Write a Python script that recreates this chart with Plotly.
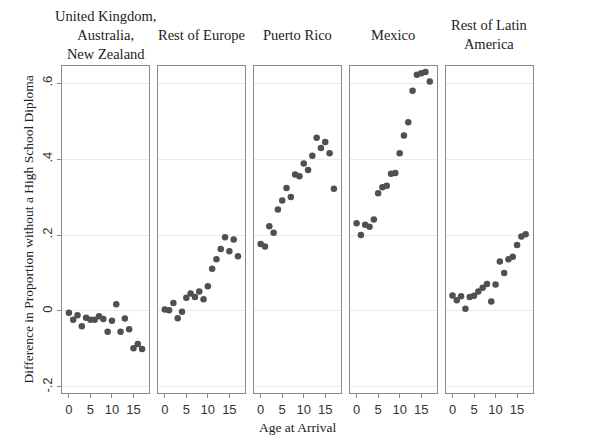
import plotly.graph_objects as go

ages = list(range(18))
panel_titles = ["United Kingdom,<br>Australia,<br>New Zealand", "Rest of Europe",
                "Puerto Rico", "Mexico", "Rest of Latin<br>America"]
uk_anz = [-0.005, -0.023, -0.011, -0.040, -0.018, -0.023, -0.023, -0.014, -0.021,
          -0.055, -0.026, 0.018, -0.055, -0.020, -0.048, -0.098, -0.087, -0.100]
rest_europe = [0.004, 0.002, 0.021, -0.019, -0.002, 0.035, 0.046, 0.037, 0.051,
               0.031, 0.065, 0.111, 0.136, 0.163, 0.194, 0.157, 0.188, 0.144]
puerto_rico = [0.176, 0.170, 0.223, 0.206, 0.267, 0.291, 0.324, 0.300, 0.359,
               0.355, 0.388, 0.371, 0.409, 0.456, 0.429, 0.445, 0.415, 0.322]
mexico = [0.231, 0.200, 0.227, 0.222, 0.241, 0.310, 0.326, 0.330, 0.361,
          0.363, 0.415, 0.462, 0.497, 0.580, 0.622, 0.626, 0.629, 0.604]
rest_latam = [0.041, 0.028, 0.039, 0.006, 0.037, 0.040, 0.051, 0.061, 0.071,
              0.025, 0.070, 0.130, 0.100, 0.136, 0.143, 0.174, 0.196, 0.202]
series = [uk_anz, rest_europe, puerto_rico, mexico, rest_latam]

y_tickvals = [-0.2, 0, 0.2, 0.4, 0.6]
y_ticktext = ["-.2", "0", ".2", ".4", ".6"]
x_tickvals = [0, 5, 10, 15]

W, H = 601, 438
L, R, T, B = 62, 533, 66, 393
plot_w = R - L
gap = 8.5
pw = (plot_w - 4 * gap) / 5

fig = go.Figure()
serif = "Liberation Serif, Times New Roman, serif"
sans = "Liberation Sans, Arial, sans-serif"

for i, (vals, title) in enumerate(zip(series, panel_titles)):
    x0 = (i * (pw + gap)) / plot_w
    x1 = (i * (pw + gap) + pw) / plot_w
    xa = "xaxis" if i == 0 else f"xaxis{i+1}"
    ya = "yaxis" if i == 0 else f"yaxis{i+1}"
    xref = "x" if i == 0 else f"x{i+1}"
    yref = "y" if i == 0 else f"y{i+1}"
    fig.add_trace(go.Scatter(x=ages, y=vals, mode="markers", xaxis=xref, yaxis=yref,
                             marker=dict(size=6.5, color="#505050"), showlegend=False))
    fig.layout[xa] = dict(domain=[x0, x1], range=[-1.6, 18.7], tickvals=x_tickvals,
                          ticks="outside", ticklen=4, tickcolor="#888",
                          showgrid=False, zeroline=False, showline=True, mirror=True,
                          linecolor="#8a8a8a", linewidth=1,
                          tickfont=dict(family=sans, size=13, color="#333"),
                          anchor=yref, automargin=False)
    fig.layout[ya] = dict(range=[-0.216, 0.645], tickvals=y_tickvals,
                          ticktext=y_ticktext, showticklabels=(i == 0),
                          ticks="outside" if i == 0 else "", ticklen=4, tickcolor="#888",
                          tickangle=-90,
                          showgrid=True, gridcolor="#ebebeb", gridwidth=1,
                          zeroline=False, showline=True, mirror=True,
                          linecolor="#8a8a8a", linewidth=1,
                          tickfont=dict(family=sans, size=13, color="#333"),
                          anchor=xref, automargin=False)
    fig.add_annotation(x=(x0 + x1) / 2, y=1 + (T - 35) / (B - T), xref="paper", yref="paper",
                       text=title, showarrow=False, xanchor="center", yanchor="middle",
                       font=dict(family=serif, size=14.5, color="#222"))

fig.add_annotation(x=0.5, y=-(427 - B) / (B - T), xref="paper", yref="paper",
                   text="Age at Arrival", showarrow=False, xanchor="center", yanchor="middle",
                   font=dict(family=serif, size=13.5, color="#222"))
fig.add_annotation(x=-(L - 28) / plot_w, y=0.5, xref="paper", yref="paper",
                   text="Difference in Proportion without a High School Diploma",
                   showarrow=False, textangle=-90, xanchor="center", yanchor="middle",
                   font=dict(family=serif, size=13.5, color="#222"))

fig.update_layout(width=W, height=H, margin=dict(l=L, r=W - R, t=T, b=H - B),
                  paper_bgcolor="white", plot_bgcolor="white")
fig.write_html("out.html", config={"displayModeBar": False},
               post_script="document.body.style.margin='0';document.body.style.padding='0';")
